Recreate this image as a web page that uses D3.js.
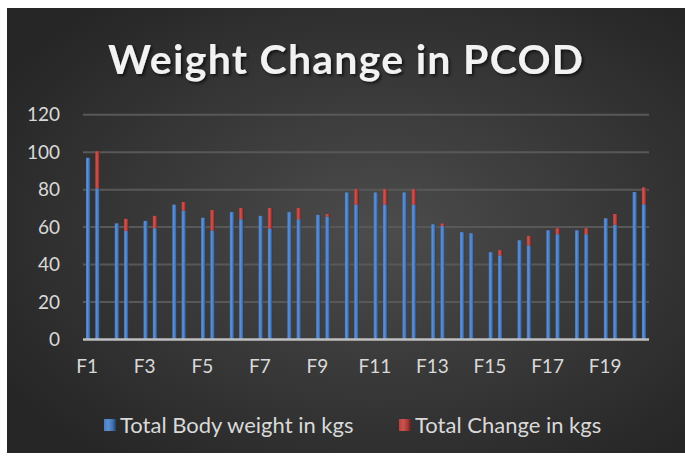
<!DOCTYPE html>
<html>
<head>
<meta charset="utf-8">
<script src="https://d3js.org/d3.v7.min.js"></script>
<style>
  html, body { margin: 0; padding: 0; background: #ffffff; }
  svg { display: block; }
</style>
</head>
<body>
<div id="vis"></div>
<script>
  // categories (participants)
  var categories = ["F1","F2","F3","F4","F5","F6","F7","F8","F9","F10",
                    "F11","F12","F13","F14","F15","F16","F17","F18","F19","F20"]
  // first bar: body weight at start
  var weightBefore = [97, 62, 63.3, 72, 65, 68, 66, 68, 66.5, 78.5,
                      78.5, 78.5, 61.5, 57.3, 46.6, 53, 58.3, 58.3, 64.7, 78.7]
  // second bar: body weight at end (blue part)
  var weightAfter = [80.7, 58, 59.4, 68.8, 58.2, 64.2, 59.2, 64.2, 65.6, 72,
                     72, 72, 60.6, 56.7, 44.9, 50.2, 56.2, 56.2, 61.2, 72.2]
  // change stacked on top of the second bar (red part)
  var weightChange = [19.8, 6.4, 6.6, 4.6, 10.9, 6, 11, 6, 1.4, 8.3,
                      8.3, 8.3, 1.3, 0, 2.8, 5.1, 3.2, 3.2, 5.8, 9]
  var yTicks = [0, 20, 40, 60, 80, 100, 120]
  var seriesNames = ["Total Body weight in kgs", "Total Change in kgs"]

  var W = 685, H = 456
  var font = "Lato, 'Open Sans', sans-serif"

  var svg = d3.select("#vis").append("svg")
    .attr("width", W).attr("height", H)

  var defs = svg.append("defs")

  // background radial gradient
  var bg = defs.append("radialGradient").attr("id", "bg")
    .attr("cx", "0.55").attr("cy", "0.5").attr("r", "0.65")
  bg.append("stop").attr("offset", "0%").attr("stop-color", "#4c4c4c")
  bg.append("stop").attr("offset", "100%").attr("stop-color", "#262626")

  // bar gradients (slight bevel look)
  var blue = defs.append("linearGradient").attr("id", "blueGrad")
    .attr("x1", "0").attr("x2", "1").attr("y1", "0").attr("y2", "0")
  blue.append("stop").attr("offset", "0%").attr("stop-color", "#4a7cc0")
  blue.append("stop").attr("offset", "35%").attr("stop-color", "#5d90d2")
  blue.append("stop").attr("offset", "75%").attr("stop-color", "#3f6eae")
  blue.append("stop").attr("offset", "100%").attr("stop-color", "#1f3b63")

  var red = defs.append("linearGradient").attr("id", "redGrad")
    .attr("x1", "0").attr("x2", "1").attr("y1", "0").attr("y2", "0")
  red.append("stop").attr("offset", "0%").attr("stop-color", "#b8403c")
  red.append("stop").attr("offset", "35%").attr("stop-color", "#cc5450")
  red.append("stop").attr("offset", "75%").attr("stop-color", "#a53633")
  red.append("stop").attr("offset", "100%").attr("stop-color", "#5e1c1a")

  var shadow = defs.append("filter").attr("id", "shadow")
    .attr("x", "-10%").attr("y", "-20%").attr("width", "130%").attr("height", "160%")
  shadow.append("feDropShadow").attr("dx", 2).attr("dy", 2)
    .attr("stdDeviation", 1.5).attr("flood-color", "#000").attr("flood-opacity", 0.6)

  svg.append("rect")
    .attr("x", 7).attr("y", 8).attr("width", W - 7).attr("height", 445)
    .attr("fill", "url(#bg)")

  // title
  svg.append("text")
    .attr("x", 108).attr("y", 74)
    .attr("textLength", 475)
    .attr("lengthAdjust", "spacing")
    .attr("font-family", font)
    .attr("font-weight", "bold")
    .attr("font-size", 41)
    .attr("fill", "#f2f2f2")
    .attr("filter", "url(#shadow)")
    .text("Weight Change in PCOD")

  // scales
  var plotLeft = 83, plotRight = 649
  var x = d3.scaleBand()
    .domain(categories)
    .range([78.6, 78.6 + 28.77 * categories.length])

  var x1 = d3.scaleBand()
    .domain(["before", "after"])
    .range([7.4, 21.1])
    .paddingInner(0.527)

  var y = d3.scaleLinear()
    .domain([0, 120])
    .range([339.5, 114.7])

  // gridlines
  svg.append("g")
    .selectAll("line")
    .data(yTicks.slice(1))
    .enter()
    .append("line")
      .attr("x1", plotLeft).attr("x2", plotRight)
      .attr("y1", function(d) { return y(d) })
      .attr("y2", function(d) { return y(d) })
      .attr("stroke", "#585858")
      .attr("stroke-width", 2)

  // y axis labels
  var yAxis = svg.append("g")
    .attr("transform", "translate(" + plotLeft + ",0)")
    .call(d3.axisLeft(y).tickValues(yTicks).tickSize(0).tickPadding(23))
  yAxis.select(".domain").remove()
  yAxis.selectAll("text")
    .attr("font-family", font)
    .attr("font-size", 19)
    .attr("fill", "#d9d9d9")

  // bars
  var groups = svg.append("g")
    .selectAll("g")
    .data(categories)
    .enter()
    .append("g")
      .attr("transform", function(d) { return "translate(" + x(d) + ",0)" })

  groups.append("rect")
    .attr("x", x1("before"))
    .attr("width", x1.bandwidth())
    .attr("y", function(d, i) { return y(weightBefore[i]) })
    .attr("height", function(d, i) { return y(0) - y(weightBefore[i]) })
    .attr("fill", "url(#blueGrad)")

  groups.append("rect")
    .attr("x", x1("after"))
    .attr("width", x1.bandwidth())
    .attr("y", function(d, i) { return y(weightAfter[i]) })
    .attr("height", function(d, i) { return y(0) - y(weightAfter[i]) })
    .attr("fill", "url(#blueGrad)")

  groups.append("rect")
    .attr("x", x1("after"))
    .attr("width", x1.bandwidth())
    .attr("y", function(d, i) { return y(weightAfter[i] + weightChange[i]) })
    .attr("height", function(d, i) { return y(weightAfter[i]) - y(weightAfter[i] + weightChange[i]) })
    .attr("fill", "url(#redGrad)")

  // x axis line
  svg.append("line")
    .attr("x1", plotLeft).attr("x2", plotRight)
    .attr("y1", y(0)).attr("y2", y(0))
    .attr("stroke", "#bfbfbf")
    .attr("stroke-width", 2.5)

  // x labels, every other category, sitting under the first bar
  var xAxis = svg.append("g")
    .attr("transform", "translate(" + (x1("before") + x1.bandwidth() / 2 - x.bandwidth() / 2 - 1) + "," + y(0) + ")")
    .call(d3.axisBottom(x)
      .tickValues(categories.filter(function(d, i) { return i % 2 == 0 }))
      .tickSize(0).tickPadding(20))
  xAxis.select(".domain").remove()
  xAxis.selectAll("text")
    .attr("font-family", font)
    .attr("font-size", 19)
    .attr("fill", "#d9d9d9")

  // legend
  var legendX = [104, 399]
  var legendFill = ["url(#blueGrad)", "url(#redGrad)"]
  var legend = svg.append("g")
    .selectAll("g")
    .data(seriesNames)
    .enter()
    .append("g")
      .attr("transform", function(d, i) { return "translate(" + legendX[i] + ",425)" })
  legend.append("rect")
    .attr("x", 0).attr("y", -6).attr("width", 12).attr("height", 12)
    .attr("fill", function(d, i) { return legendFill[i] })
  legend.append("text")
    .attr("x", 16).attr("y", 0)
    .attr("dy", "0.35em")
    .attr("font-family", font)
    .attr("font-size", 22)
    .attr("fill", "#d9d9d9")
    .text(function(d) { return d })
</script>
</body>
</html>
